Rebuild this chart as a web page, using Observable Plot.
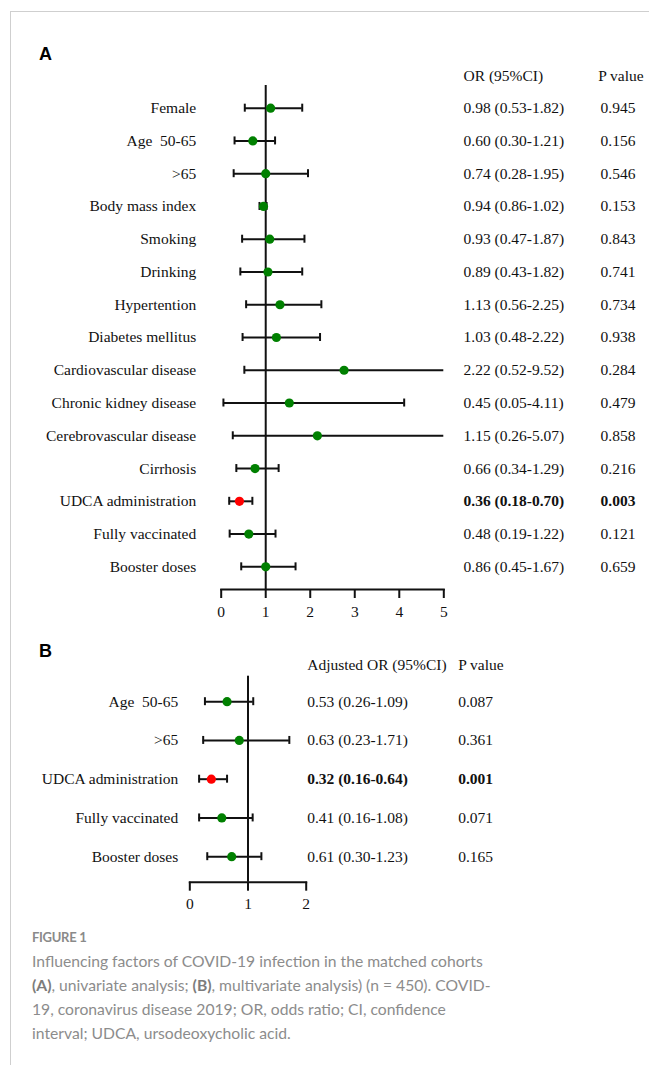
<!DOCTYPE html>
<html>
<head>
<meta charset="utf-8">
<script src="https://cdn.jsdelivr.net/npm/d3@7"></script>
<script src="https://cdn.jsdelivr.net/npm/@observablehq/plot@0.6"></script>
<style>
  body { margin: 0; background: #fff; }
  #page { position: relative; width: 649px; height: 1065px; background: #fff; overflow: hidden; }
  #border { position: absolute; left: 10px; top: 11px; right: 0; bottom: 0; border-top: 1px solid #cfcfcf; border-left: 1px solid #cfcfcf; }
  .panel-label { position: absolute; left: 39px; font: bold 18px "Liberation Sans", Arial, sans-serif; line-height: 18px; color: #000; }
  .chart { position: absolute; left: 0; }
  #caption { position: absolute; left: 32px; top: 925px; width: 600px; font-family: Lato, "Open Sans", sans-serif; color: #8c8c8c; }
  #caption .title { font-size: 13px; line-height: 24px; font-weight: 700; letter-spacing: -0.3px; color: #8a8a8a; }
  #caption .body { font-size: 15.7px; line-height: 24px; }
  #caption b { font-weight: 700; color: #7c7c7c; }
</style>
</head>
<body>
<div id="page">
  <div id="border"></div>
  <div class="panel-label" style="top:45px">A</div>
  <div class="chart" id="chartA" style="top:0px"></div>
  <div class="panel-label" style="top:642px">B</div>
  <div class="chart" id="chartB" style="top:630px"></div>
  <div id="caption">
    <div class="title">FIGURE 1</div>
    <div class="body">Influencing factors of COVID-19 infection in the matched cohorts<br><b>(A)</b>, univariate analysis; <b>(B)</b>, multivariate analysis) (n = 450). COVID-<br>19, coronavirus disease 2019; OR, odds ratio; CI, confidence<br>interval; UDCA, ursodeoxycholic acid.</div>
  </div>
</div>
<script>
// ---------- Panel A: univariate ----------
const rowsA = ["Female", "Age\u00a0 50-65", ">65", "Body mass index", "Smoking", "Drinking", "Hypertention",
  "Diabetes mellitus", "Cardiovascular disease", "Chronic kidney disease", "Cerebrovascular disease",
  "Cirrhosis", "UDCA administration", "Fully vaccinated", "Booster doses"];
const pointA = [1.11, 0.71, 1.00, 0.95, 1.09, 1.05, 1.32, 1.24, 2.76, 1.53, 2.16, 0.76, 0.41, 0.62, 1.00];
const lowA   = [0.53, 0.30, 0.28, 0.86, 0.47, 0.43, 0.56, 0.48, 0.52, 0.05, 0.26, 0.34, 0.18, 0.19, 0.45];
const highA  = [1.82, 1.21, 1.95, 1.02, 1.87, 1.82, 2.25, 2.22, 9.52, 4.11, 5.07, 1.29, 0.70, 1.22, 1.67];
const orTextA = ["0.98 (0.53-1.82)", "0.60 (0.30-1.21)", "0.74 (0.28-1.95)", "0.94 (0.86-1.02)",
  "0.93 (0.47-1.87)", "0.89 (0.43-1.82)", "1.13 (0.56-2.25)", "1.03 (0.48-2.22)", "2.22 (0.52-9.52)",
  "0.45 (0.05-4.11)", "1.15 (0.26-5.07)", "0.66 (0.34-1.29)", "0.36 (0.18-0.70)", "0.48 (0.19-1.22)",
  "0.86 (0.45-1.67)"];
const pTextA = ["0.945", "0.156", "0.546", "0.153", "0.843", "0.741", "0.734", "0.938", "0.284",
  "0.479", "0.858", "0.216", "0.003", "0.121", "0.659"];
const ticksA = [0, 1, 2, 3, 4, 5];
const headersA = ["OR (95%CI)", "P value"];

// ---------- Panel B: multivariate ----------
const rowsB = ["Age\u00a0 50-65", ">65", "UDCA administration", "Fully vaccinated", "Booster doses"];
const pointB = [0.64, 0.85, 0.37, 0.55, 0.72];
const lowB   = [0.26, 0.23, 0.16, 0.16, 0.30];
const highB  = [1.09, 1.71, 0.64, 1.08, 1.23];
const orTextB = ["0.53 (0.26-1.09)", "0.63 (0.23-1.71)", "0.32 (0.16-0.64)", "0.41 (0.16-1.08)", "0.61 (0.30-1.23)"];
const pTextB = ["0.087", "0.361", "0.001", "0.071", "0.165"];
const ticksB = [0, 1, 2];
const headersB = ["Adjusted OR (95%CI)", "P value"];

function makeRows(names, point, low, high, orText, pText) {
  return names.map((name, i) => ({
    name, point: point[i], low: low[i], high: high[i],
    orText: orText[i], pText: pText[i], sig: parseFloat(pText[i]) < 0.05
  }));
}

function forest(o) {
  const data = makeRows(o.rows, o.point, o.low, o.high, o.orText, o.pText);
  const xMax = o.ticks[o.ticks.length - 1];
  const txt = {y: "name", frameAnchor: "right", textAnchor: "start", fill: "#111"};
  const head = {frameAnchor: "top-right", textAnchor: "start", lineAnchor: "middle", dy: o.hDy, fill: "#111"};
  return Plot.plot({
    width: 649,
    height: o.height,
    marginTop: o.mt, marginBottom: o.mb, marginLeft: o.ml, marginRight: o.mr,
    style: {fontFamily: "'Liberation Serif', 'Times New Roman', serif", fontSize: "15.5px", color: "#111", background: "transparent", overflow: "visible"},
    x: {domain: [0, xMax], clamp: true},
    y: {type: "band", domain: o.rows, paddingInner: o.pi, paddingOuter: o.po, round: false},
    marks: [
      Plot.frame({anchor: "bottom", strokeWidth: 2, stroke: "#111"}),
      Plot.axisX({ticks: o.ticks, tickSize: 9, tickPadding: 7, strokeWidth: 2, stroke: "#111", label: null, tickFormat: d => String(d)}),
      Plot.axisY({tickSize: 0, tickPadding: o.labelPad, label: null}),
      Plot.ruleY(data, {y: "name", x1: "low", x2: "high", strokeWidth: 2, stroke: "#111"}),
      Plot.tickX(data, {x: "low", y: "name", strokeWidth: 2, stroke: "#111"}),
      Plot.tickX(data.filter(d => d.high <= xMax), {x: "high", y: "name", strokeWidth: 2, stroke: "#111"}),
      Plot.ruleX([1], {strokeWidth: 2, stroke: "#111"}),
      Plot.dot(data, {x: "point", y: "name", r: 4.6, fill: d => d.sig ? "#ff0000" : "#008000"}),
      Plot.text(data.filter(d => !d.sig), {...txt, text: "orText", dx: o.orDx}),
      Plot.text(data.filter(d => d.sig), {...txt, text: "orText", dx: o.orDx, fontWeight: "bold"}),
      Plot.text(data.filter(d => !d.sig), {...txt, text: "pText", dx: o.pDx}),
      Plot.text(data.filter(d => d.sig), {...txt, text: "pText", dx: o.pDx, fontWeight: "bold"}),
      Plot.text([o.headers[0]], {...head, dx: o.orDx}),
      Plot.text([o.headers[1]], {...head, dx: o.phDx})
    ]
  });
}

document.getElementById("chartA").append(forest({
  rows: rowsA, point: pointA, low: lowA, high: highA, orText: orTextA, pText: pTextA,
  ticks: ticksA, headers: headersA,
  height: 625, mt: 85, mb: 36, ml: 220.7, mr: 205.7, pi: 0.756, po: 0.57,
  labelPad: 25, orDx: 19.7, pDx: 156.7, phDx: 154.4, hDy: -9.3
}));

document.getElementById("chartB").append(forest({
  rows: rowsB, point: pointB, low: lowB, high: highB, orText: orTextB, pText: pTextB,
  ticks: ticksB, headers: headersB,
  height: 287.7, mt: 45.7, mb: 36, ml: 189.3, mr: 343.3, pi: 0.794, po: 0.555,
  labelPad: 11.6, orDx: 1, pDx: 152, phDx: 152, hDy: -10.7
}));
</script>
</body>
</html>
